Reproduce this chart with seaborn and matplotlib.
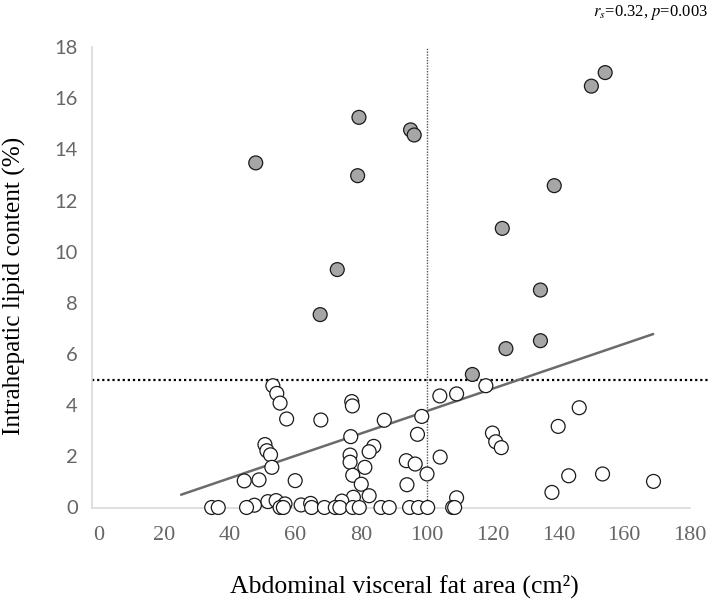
import numpy as np
import pandas as pd
import seaborn as sns
import matplotlib.pyplot as plt

# ---- data ----
fatty_x = [154.2, 150.0, 79.3, 95.0, 96.1, 47.9, 78.9, 138.7, 122.9, 72.7, 134.5, 67.5, 124.0, 134.5, 113.8]
fatty_y = [17.0, 16.47, 15.25, 14.76, 14.56, 13.47, 12.97, 12.58, 10.91, 9.30, 8.50, 7.54, 6.21, 6.52, 5.2]

normal_x = [53.1, 54.3, 55.3, 57.3, 67.7, 50.7, 51.3, 52.4, 52.8, 44.4, 48.9, 59.9,
            51.6, 54.1, 56.8, 61.7, 64.6, 47.5,
            117.9, 103.9, 109.0, 77.1, 77.3, 146.3, 87.0, 98.4, 139.9, 97.1,
            119.9, 120.9, 122.6, 76.8, 83.8, 82.4, 76.6, 76.6, 81.1, 104.0,
            93.7, 96.4, 77.4, 80.0, 93.9, 100.0, 143.1, 153.4, 168.9, 138.0,
            82.4, 77.6, 74.1, 109.0,
            34.5, 36.5, 45.1, 55.3, 56.3, 64.9, 68.8, 72.1, 73.5, 77.4, 79.4,
            86.0, 88.5, 94.7, 97.4, 100.2, 107.8, 108.4]
normal_y = [4.76, 4.46, 4.08, 3.46, 3.42, 2.46, 2.22, 2.06, 1.57, 1.04, 1.08, 1.05,
            0.23, 0.27, 0.14, 0.10, 0.16, 0.09,
            4.76, 4.36, 4.44, 4.14, 3.97, 3.90, 3.41, 3.56, 3.17, 2.86,
            2.91, 2.57, 2.34, 2.77, 2.39, 2.18, 2.05, 1.77, 1.57, 1.97,
            1.83, 1.70, 1.26, 0.91, 0.89, 1.31, 1.24, 1.31, 1.02, 0.59,
            0.46, 0.40, 0.25, 0.38,
            0.0, 0.0, 0.0, 0.0, 0.0, 0.0, 0.0, 0.0, 0.0, 0.0, 0.0,
            0.0, 0.0, 0.0, 0.0, 0.0, 0.0, 0.0]

trend_x = [25.2, 168.8]
trend_y = [0.50, 6.78]

x_ticks = [0, 20, 40, 60, 80, 100, 120, 140, 160, 180]
y_ticks = [0, 2, 4, 6, 8, 10, 12, 14, 16, 18]
vfa_cut = 100
ihl_cut = 5

df = pd.DataFrame({
    "vfa": normal_x + fatty_x,
    "ihl": normal_y + fatty_y,
    "group": ["normal"] * len(normal_x) + ["fatty"] * len(fatty_x),
})

sns.set_theme(style="white")
plt.rcParams["mathtext.fontset"] = "stix"

fig = plt.figure(figsize=(7.14, 6.01), dpi=100)
ax = fig.add_axes([91.7 / 714, (601 - 507.5) / 601, (690 - 91.7) / 714, (507.5 - 47) / 601])

# reference lines
ax.plot([vfa_cut, vfa_cut], [0, 18], color="#555555", lw=1.0, ls=(0, (1, 1)), zorder=1, clip_on=False)
ax.plot([-2, 185.5], [ihl_cut, ihl_cut], color="black", lw=1.6, ls=(0, (1, 1.3)), zorder=1, clip_on=False)

sns.lineplot(x=trend_x, y=trend_y, ax=ax, color="#6b6b6b", lw=1.8, zorder=2)

sns.scatterplot(data=df, x="vfa", y="ihl", hue="group",
                palette={"normal": "white", "fatty": "#a6a6a6"},
                edgecolor="#1a1a1a", linewidth=0.9, s=100, legend=False,
                ax=ax, zorder=3, clip_on=False)

ax.set_xlim(-2, 180)
ax.set_ylim(0, 18)
ax.set_xticks(x_ticks)
ax.set_yticks(y_ticks)

for s in ["top", "right"]:
    ax.spines[s].set_visible(False)
for s in ["left", "bottom"]:
    ax.spines[s].set_color("#d9d9d9")
    ax.spines[s].set_linewidth(1.2)

ax.tick_params(axis="x", direction="out", length=4, width=1.2,
               colors="#666666", pad=9, labelsize=16)
ax.tick_params(axis="y", direction="inout", length=8, width=1.2,
               colors="#666666", pad=6, labelsize=14.5)
ax.tick_params(axis="x", color="#d9d9d9")
ax.tick_params(axis="y", color="#d9d9d9")
for lab in ax.get_xticklabels():
    lab.set_fontfamily("Liberation Serif")
for lab in ax.get_yticklabels():
    lab.set_fontfamily("Lato")

ax.set_xlabel("Abdominal visceral fat area (cm²)", fontfamily="Liberation Serif",
              fontsize=18.5, color="black")
ax.xaxis.set_label_coords((404 - 91.7) / 598.3, (507.5 - 586) / 460.5)
ax.xaxis.label.set_va("center")
ax.set_ylabel("Intrahepatic lipid content (%)", fontfamily="Liberation Serif",
              fontsize=18.2, color="black")
ax.yaxis.set_label_coords((14 - 91.7) / 598.3, (507.5 - 286) / 460.5)
ax.yaxis.label.set_va("center")

fig.text(708 / 714, 1 - 12 / 601, r"$r_s$=0.32, $p$=0.003", ha="right", va="center",
         fontfamily="Liberation Serif", fontsize=12, color="black")

fig.savefig("out.png", dpi=100)
